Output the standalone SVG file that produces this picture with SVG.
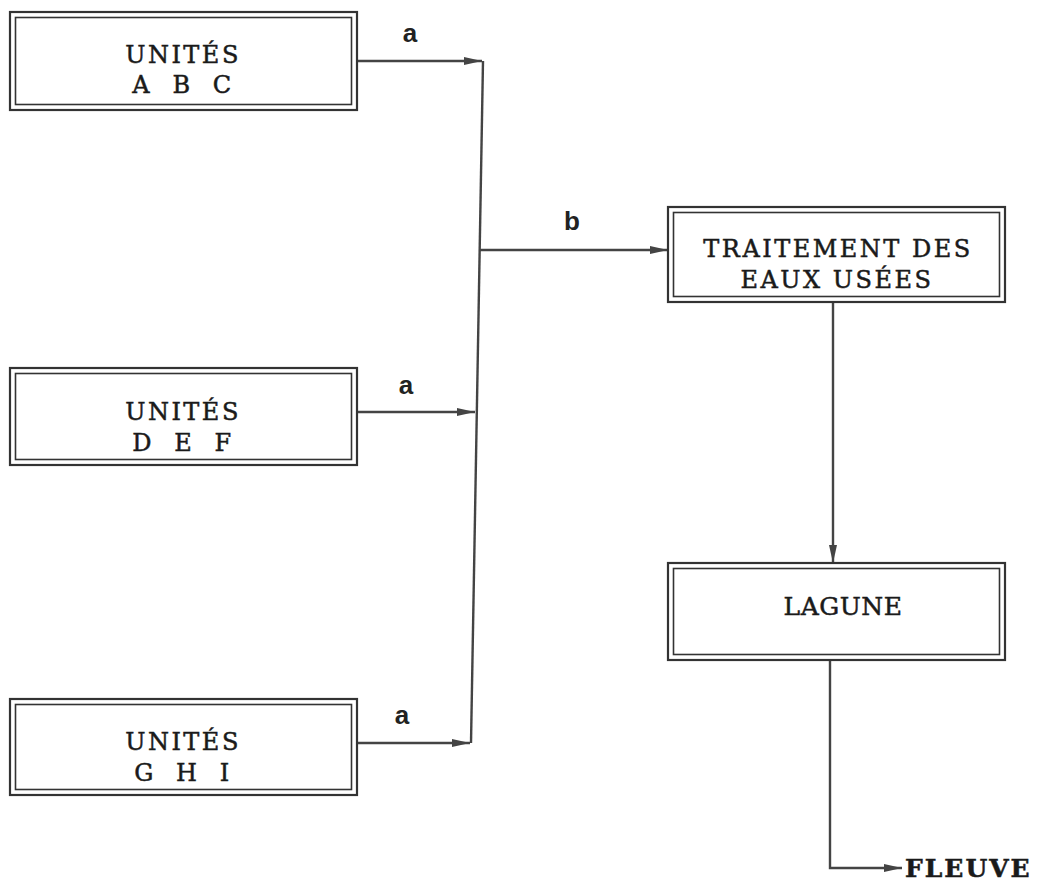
<svg xmlns="http://www.w3.org/2000/svg" width="1040" height="887" viewBox="0 0 1040 887">
<style>
.o{fill:#fff;stroke:#333;stroke-width:2.2}
.i{fill:none;stroke:#333;stroke-width:1.6}
.t{font-family:"DejaVu Serif",serif;font-size:24px;fill:#1a1a1a;stroke:#1a1a1a;stroke-width:0.5;text-anchor:middle;letter-spacing:2.5px}
.s{font-family:"DejaVu Serif",serif;font-size:25px;fill:#1a1a1a;stroke:#1a1a1a;stroke-width:0.5}
.l{font-family:"Liberation Sans",Arial,sans-serif;font-size:26px;font-weight:bold;fill:#222;text-anchor:middle}
.c{fill:none;stroke:#444;stroke-width:2.4}
</style>
<defs>
<marker id="ah" viewBox="0 0 10 10" refX="10" refY="5" markerWidth="18" markerHeight="8" markerUnits="userSpaceOnUse" orient="auto" preserveAspectRatio="none">
<path d="M0,0 L10,5 L0,10 Z" fill="#444"/>
</marker>
</defs>
<g id="connectors">
<path class="c" d="M357,61 H482" marker-end="url(#ah)"/>
<path class="c" d="M357,412 H475" marker-end="url(#ah)"/>
<path class="c" d="M357,743 H470" marker-end="url(#ah)"/>
<path class="c" d="M483,61 L471,743"/>
<path class="c" d="M480,250 H668" marker-end="url(#ah)"/>
<path class="c" d="M833,302 V563" marker-end="url(#ah)"/>
<path class="c" d="M830,660 V868 H902" marker-end="url(#ah)"/>
<text class="l" x="410" y="42">a</text>
<text class="l" x="406" y="394">a</text>
<text class="l" x="402" y="724">a</text>
<text class="l" x="572" y="230">b</text>
</g>
<g id="abc">
<rect class="o" x="10" y="12" width="347" height="98"/>
<rect class="i" x="15.5" y="17.5" width="336" height="87"/>
<text class="t" x="183" y="63">UNITÉS</text>
<text class="t" x="183" y="93" xml:space="preserve">A  B  C</text>
</g>
<g id="def">
<rect class="o" x="10" y="368" width="347" height="97"/>
<rect class="i" x="15.5" y="373.5" width="336" height="86"/>
<text class="t" x="183" y="420">UNITÉS</text>
<text class="t" x="183" y="451" xml:space="preserve">D  E  F</text>
</g>
<g id="ghi">
<rect class="o" x="10" y="699" width="347" height="96"/>
<rect class="i" x="15.5" y="704.5" width="336" height="85"/>
<text class="t" x="183" y="750">UNITÉS</text>
<text class="t" x="183" y="781" xml:space="preserve">G  H  I</text>
</g>
<g id="traitement">
<rect class="o" x="668" y="207" width="337" height="95"/>
<rect class="i" x="673.5" y="212.5" width="326" height="84"/>
<text class="t" x="838" y="257" letter-spacing="1.5">TRAITEMENT DES</text>
<text class="t" x="837" y="288" letter-spacing="1.5">EAUX USÉES</text>
</g>
<g id="lagune">
<rect class="o" x="668" y="563" width="337" height="97"/>
<rect class="i" x="673.5" y="568.5" width="326" height="86"/>
<text class="s" x="843" y="615" text-anchor="middle" letter-spacing="0.5">LAGUNE</text>
</g>
<g id="fleuve">
<text class="s" x="905" y="877" font-weight="bold" font-size="27" letter-spacing="2">FLEUVE</text>
</g>
</svg>
